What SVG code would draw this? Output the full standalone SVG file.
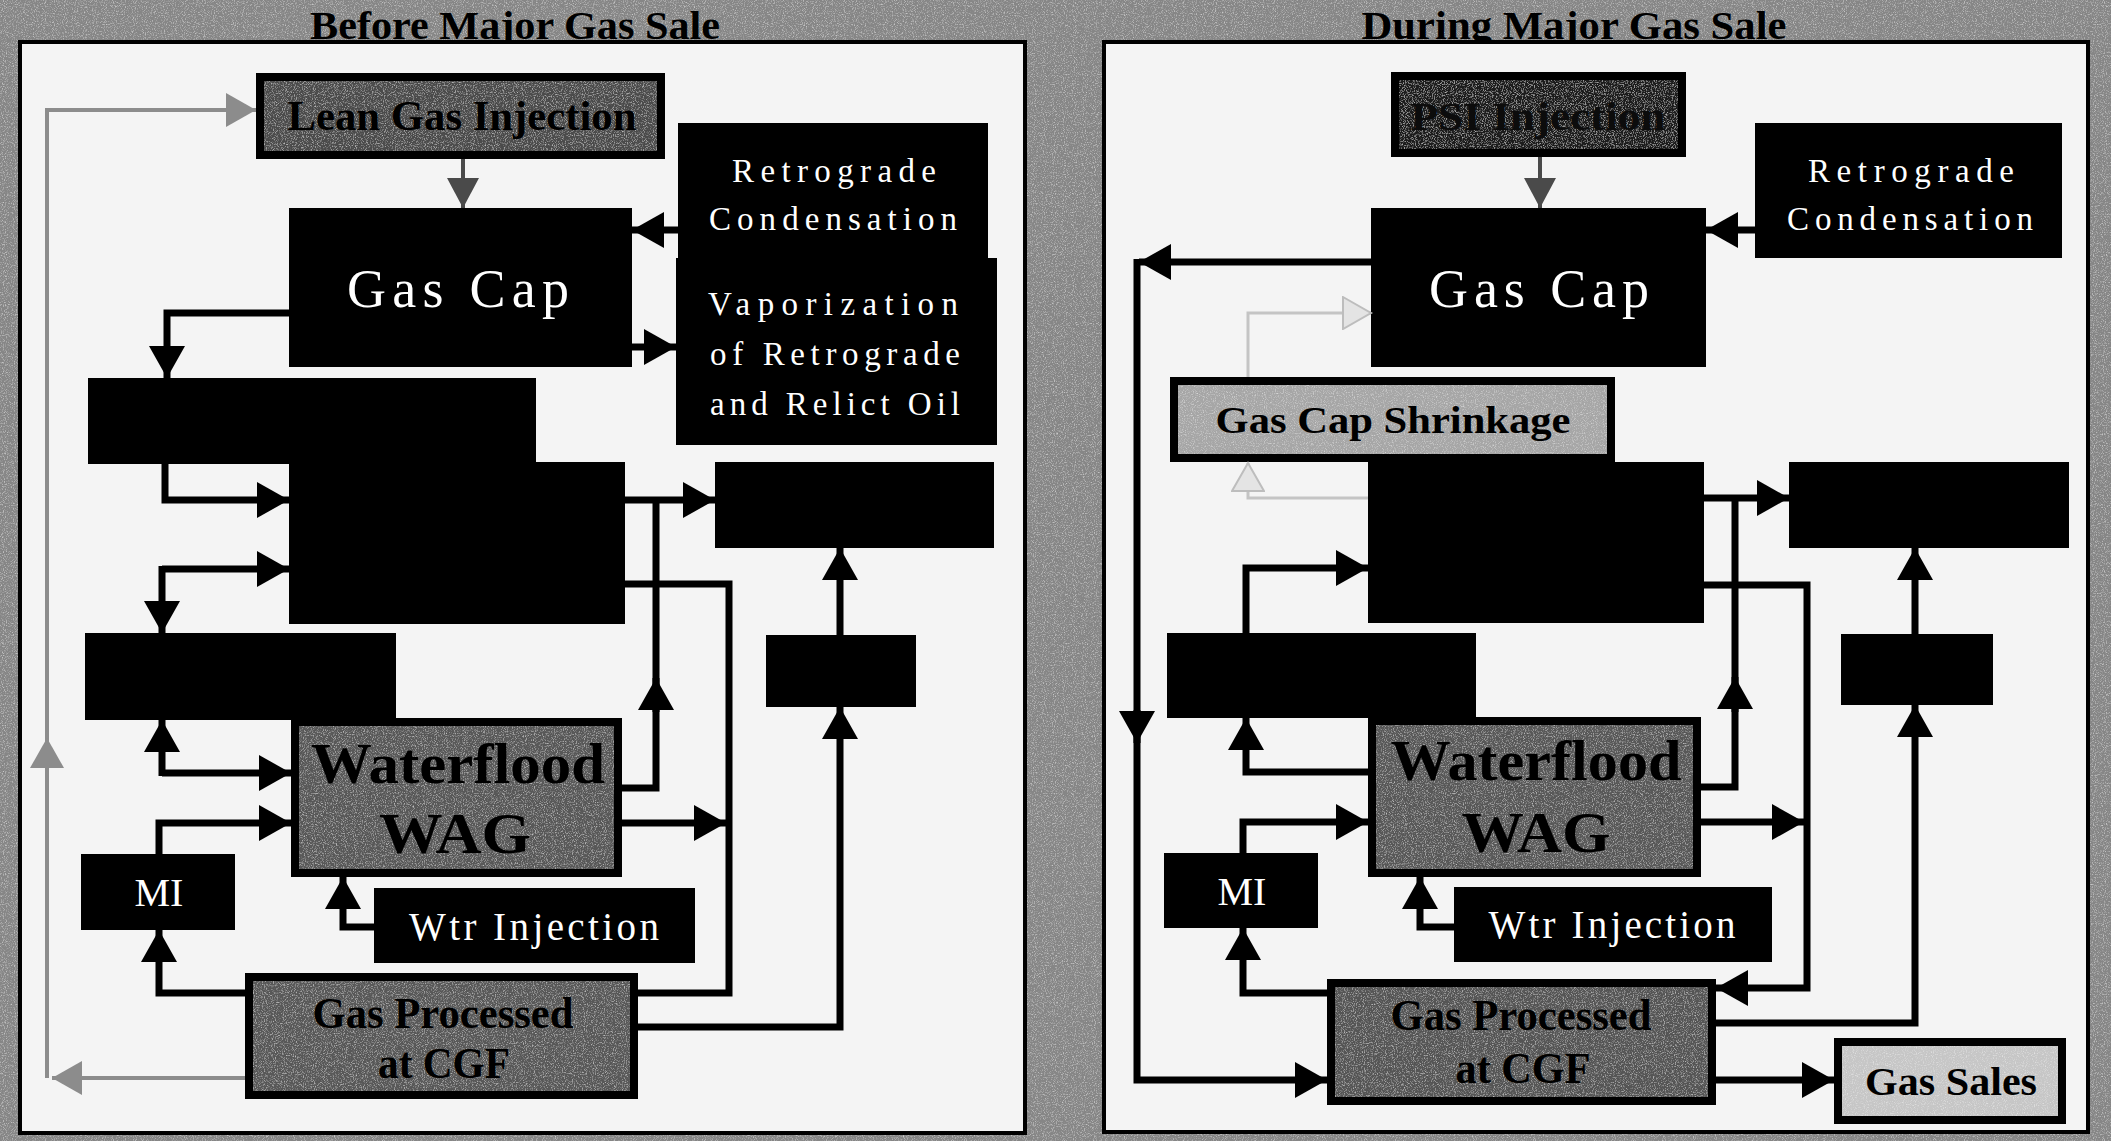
<svg xmlns="http://www.w3.org/2000/svg" width="2111" height="1141" viewBox="0 0 2111 1141">
<style>
.panel{fill:#f4f4f4;stroke:#000;stroke-width:4}
.blk{fill:#000}
.gbox{stroke:#000;stroke-width:8}
.wt{fill:#fff;font-family:"Liberation Serif","Times New Roman",serif}
.bt{fill:#000;font-family:"Liberation Serif","Times New Roman",serif;font-weight:bold}
.title{fill:#000;font-family:"Liberation Serif","Times New Roman",serif;font-weight:bold;font-size:40px}
.c{fill:none;stroke:#000;stroke-width:7}
.cd{fill:none;stroke:#4a4a4a;stroke-width:4}
.cg{fill:none;stroke:#8c8c8c;stroke-width:4}
.cl{fill:none;stroke:#c4c4c4;stroke-width:3}
</style>
<defs>
<filter id="grain" x="0" y="0" width="100%" height="100%">
<feTurbulence type="fractalNoise" baseFrequency="0.9" numOctaves="2" seed="4" result="n"/>
<feColorMatrix in="n" type="matrix" values="0 0 0 0 1  0 0 0 0 1  0 0 0 0 1  1.2 0 0 0 -0.6" result="w"/>
<feComposite in="w" in2="SourceGraphic" operator="in" result="wi"/>
<feMerge><feMergeNode in="SourceGraphic"/><feMergeNode in="wi"/></feMerge>
</filter>
<marker id="ah" markerUnits="userSpaceOnUse" markerWidth="34" markerHeight="36" refX="32" refY="18" orient="auto"><path d="M0,0 L32,18 L0,36 z" fill="#000"/></marker>
<marker id="ahd" markerUnits="userSpaceOnUse" markerWidth="32" markerHeight="32" refX="30" refY="16" orient="auto"><path d="M0,0 L30,16 L0,32 z" fill="#4a4a4a"/></marker>
<marker id="ahg" markerUnits="userSpaceOnUse" markerWidth="32" markerHeight="34" refX="30" refY="17" orient="auto"><path d="M0,0 L30,17 L0,34 z" fill="#8c8c8c"/></marker>
<marker id="ahl" markerUnits="userSpaceOnUse" markerWidth="32" markerHeight="34" refX="29" refY="17" orient="auto"><path d="M1,1 L29,17 L1,33 z" fill="#e4e4e4" stroke="#bdbdbd" stroke-width="2"/></marker>
</defs>

<rect x="0" y="0" width="2111" height="1141" fill="#868686" filter="url(#grain)"/>

<text class="title" x="515" y="39" text-anchor="middle" textLength="410" lengthAdjust="spacingAndGlyphs">Before Major Gas Sale</text>
<text class="title" x="1574" y="39" text-anchor="middle" textLength="425" lengthAdjust="spacingAndGlyphs">During Major Gas Sale</text>

<rect class="panel" x="20" y="42" width="1005" height="1091"/>
<rect class="panel" x="1104" y="42" width="984" height="1090"/>

<!-- LEFT PANEL NODES -->
<g id="l-lean-gas">
<rect x="260" y="77" width="401" height="78" fill="#4c4c4c" filter="url(#grain)"/>
<rect class="gbox" x="260" y="77" width="401" height="78" fill="none"/>
<text class="bt" x="462" y="130" font-size="42" text-anchor="middle" textLength="349" lengthAdjust="spacingAndGlyphs">Lean Gas Injection</text>
</g>
<g id="l-gas-cap">
<rect class="blk" x="289" y="208" width="343" height="159"/>
<text class="wt" x="458" y="307" font-size="54" text-anchor="middle" textLength="222" lengthAdjust="spacing">Gas Cap</text>
</g>
<g id="l-retro">
<rect class="blk" x="678" y="123" width="310" height="137"/>
<text class="wt" x="834" y="182" font-size="33" text-anchor="middle" textLength="204" lengthAdjust="spacing">Retrograde</text>
<text class="wt" x="833" y="230" font-size="33" text-anchor="middle" textLength="248" lengthAdjust="spacing">Condensation</text>
</g>
<g id="l-vapor">
<rect class="blk" x="676" y="258" width="321" height="187"/>
<text class="wt" x="833" y="315" font-size="33" text-anchor="middle" textLength="250" lengthAdjust="spacing">Vaporization</text>
<text class="wt" x="835" y="365" font-size="33" text-anchor="middle" textLength="250" lengthAdjust="spacing">of Retrograde</text>
<text class="wt" x="835" y="415" font-size="33" text-anchor="middle" textLength="250" lengthAdjust="spacing">and Relict Oil</text>
</g>
<g id="l-box-a"><rect class="blk" x="88" y="378" width="448" height="86"/></g>
<g id="l-box-b"><rect class="blk" x="289" y="462" width="336" height="162"/></g>
<g id="l-box-c"><rect class="blk" x="85" y="633" width="311" height="87"/></g>
<g id="l-box-d"><rect class="blk" x="715" y="462" width="279" height="86"/></g>
<g id="l-box-e"><rect class="blk" x="766" y="635" width="150" height="72"/></g>
<g id="l-waterflood">
<rect x="295" y="722" width="323" height="151" fill="#585858" filter="url(#grain)"/>
<rect class="gbox" x="295" y="722" width="323" height="151" fill="none"/>
<text class="bt" x="458" y="783" font-size="58" text-anchor="middle" textLength="294" lengthAdjust="spacingAndGlyphs">Waterflood</text>
<text class="bt" x="455" y="853" font-size="58" text-anchor="middle" textLength="152" lengthAdjust="spacingAndGlyphs">WAG</text>
</g>
<g id="l-mi">
<rect class="blk" x="81" y="854" width="154" height="76"/>
<text class="wt" x="159" y="906" font-size="40" text-anchor="middle">MI</text>
</g>
<g id="l-wtr">
<rect class="blk" x="374" y="888" width="321" height="75"/>
<text class="wt" x="534" y="940" font-size="39" text-anchor="middle" textLength="250" lengthAdjust="spacing">Wtr Injection</text>
</g>
<g id="l-gp">
<rect x="249" y="977" width="385" height="118" fill="#585858" filter="url(#grain)"/>
<rect class="gbox" x="249" y="977" width="385" height="118" fill="none"/>
<text class="bt" x="443" y="1028" font-size="44" text-anchor="middle" textLength="261" lengthAdjust="spacingAndGlyphs">Gas Processed</text>
<text class="bt" x="444" y="1078" font-size="44" text-anchor="middle" textLength="132" lengthAdjust="spacingAndGlyphs">at CGF</text>
</g>

<!-- RIGHT PANEL NODES -->
<g id="r-psi">
<rect x="1395" y="76" width="287" height="77" fill="#1e1e1e" filter="url(#grain)"/>
<rect class="gbox" x="1395" y="76" width="287" height="77" fill="none" stroke-width="6"/>
<text x="1538" y="130" font-size="40" text-anchor="middle" textLength="255" lengthAdjust="spacingAndGlyphs" fill="#0c0c0c" font-family="Liberation Serif, serif" font-weight="bold">PSI Injection</text>
</g>
<g id="r-gas-cap">
<rect class="blk" x="1371" y="208" width="335" height="159"/>
<text class="wt" x="1539" y="307" font-size="54" text-anchor="middle" textLength="220" lengthAdjust="spacing">Gas Cap</text>
</g>
<g id="r-retro">
<rect class="blk" x="1755" y="123" width="307" height="135"/>
<text class="wt" x="1911" y="182" font-size="33" text-anchor="middle" textLength="206" lengthAdjust="spacing">Retrograde</text>
<text class="wt" x="1910" y="230" font-size="33" text-anchor="middle" textLength="246" lengthAdjust="spacing">Condensation</text>
</g>
<g id="r-shrinkage">
<rect x="1174" y="381" width="437" height="77" fill="#a6a6a6" filter="url(#grain)"/>
<rect class="gbox" x="1174" y="381" width="437" height="77" fill="none"/>
<text class="bt" x="1393" y="433" font-size="38" text-anchor="middle" textLength="355" lengthAdjust="spacingAndGlyphs">Gas Cap Shrinkage</text>
</g>
<g id="r-box-b"><rect class="blk" x="1368" y="462" width="336" height="161"/></g>
<g id="r-box-c"><rect class="blk" x="1167" y="633" width="309" height="85"/></g>
<g id="r-box-d"><rect class="blk" x="1789" y="462" width="280" height="86"/></g>
<g id="r-box-e"><rect class="blk" x="1841" y="634" width="152" height="71"/></g>
<g id="r-waterflood">
<rect x="1372" y="721" width="325" height="152" fill="#585858" filter="url(#grain)"/>
<rect class="gbox" x="1372" y="721" width="325" height="152" fill="none"/>
<text class="bt" x="1536" y="780" font-size="58" text-anchor="middle" textLength="291" lengthAdjust="spacingAndGlyphs">Waterflood</text>
<text class="bt" x="1536" y="852" font-size="58" text-anchor="middle" textLength="149" lengthAdjust="spacingAndGlyphs">WAG</text>
</g>
<g id="r-mi">
<rect class="blk" x="1164" y="853" width="154" height="75"/>
<text class="wt" x="1242" y="905" font-size="40" text-anchor="middle">MI</text>
</g>
<g id="r-wtr">
<rect class="blk" x="1454" y="887" width="318" height="75"/>
<text class="wt" x="1612" y="938" font-size="39" text-anchor="middle" textLength="247" lengthAdjust="spacing">Wtr Injection</text>
</g>
<g id="r-gp">
<rect x="1331" y="983" width="381" height="118" fill="#545454" filter="url(#grain)"/>
<rect class="gbox" x="1331" y="983" width="381" height="118" fill="none"/>
<text class="bt" x="1521" y="1030" font-size="44" text-anchor="middle" textLength="261" lengthAdjust="spacingAndGlyphs">Gas Processed</text>
<text class="bt" x="1523" y="1083" font-size="44" text-anchor="middle" textLength="135" lengthAdjust="spacingAndGlyphs">at CGF</text>
</g>
<g id="r-gas-sales">
<rect x="1838" y="1042" width="224" height="78" fill="#c6c6c6" filter="url(#grain)"/>
<rect class="gbox" x="1838" y="1042" width="224" height="78" fill="none"/>
<text class="bt" x="1951" y="1095" font-size="40" text-anchor="middle" textLength="172" lengthAdjust="spacingAndGlyphs">Gas Sales</text>
</g>

<!-- CONNECTORS -->
<g id="connectors">
<!-- left -->
<path class="cd" d="M463,159 V208" marker-end="url(#ahd)"/>
<path class="c" d="M678,230 H632" marker-end="url(#ah)"/>
<path class="c" d="M632,347 H676" marker-end="url(#ah)"/>
<path class="c" d="M291,313 H167 V378" marker-end="url(#ah)"/>
<path class="c" d="M165,463 V500 H289" marker-end="url(#ah)"/>
<path class="c" d="M162,569 H289" marker-end="url(#ah)"/>
<path class="c" d="M162,566 V633" marker-end="url(#ah)"/>
<path class="c" d="M162,776 V720" marker-end="url(#ah)"/>
<path class="c" d="M162,773 H291" marker-end="url(#ah)"/>
<path class="c" d="M159,854 V823 H291" marker-end="url(#ah)"/>
<path class="c" d="M245,993 H159 V930" marker-end="url(#ah)"/>
<path class="c" d="M374,927 H343 V877" marker-end="url(#ah)"/>
<path class="c" d="M625,500 H715" marker-end="url(#ah)"/>
<path class="c" d="M622,788 H656 V497"/>
<path class="c" d="M656,712 V678" marker-end="url(#ah)"/>
<path class="c" d="M625,584 H729 V993 H638"/>
<path class="c" d="M622,823 H726" marker-end="url(#ah)"/>
<path class="c" d="M638,1027 H840 V707" marker-end="url(#ah)"/>
<path class="c" d="M840,635 V548" marker-end="url(#ah)"/>
<path class="cg" d="M245,1078 H52" marker-end="url(#ahg)"/>
<path class="cg" d="M47,1078 V110 H256" marker-end="url(#ahg)"/>
<path class="cg" d="M47,772 V738" marker-end="url(#ahg)"/>
<!-- right -->
<path class="cd" d="M1540,157 V208" marker-end="url(#ahd)"/>
<path class="c" d="M1755,230 H1706" marker-end="url(#ah)"/>
<path class="c" d="M1371,262 H1139" marker-end="url(#ah)"/>
<path class="c" d="M1137,259 V1080 H1327" marker-end="url(#ah)"/>
<path class="c" d="M1137,710 V743" marker-end="url(#ah)"/>
<path class="cl" d="M1248,377 V313 H1371" marker-end="url(#ahl)"/>
<path class="cl" d="M1368,498 H1248 V463" marker-end="url(#ahl)"/>
<path class="c" d="M1704,498 H1789" marker-end="url(#ah)"/>
<path class="c" d="M1701,787 H1735 V495"/>
<path class="c" d="M1735,712 V677" marker-end="url(#ah)"/>
<path class="c" d="M1704,585 H1807 V988 H1716" marker-end="url(#ah)"/>
<path class="c" d="M1701,822 H1804" marker-end="url(#ah)"/>
<path class="c" d="M1716,1023 H1915 V705" marker-end="url(#ah)"/>
<path class="c" d="M1915,634 V548" marker-end="url(#ah)"/>
<path class="c" d="M1716,1080 H1834" marker-end="url(#ah)"/>
<path class="c" d="M1246,633 V568 H1368" marker-end="url(#ah)"/>
<path class="c" d="M1368,772 H1246 V718" marker-end="url(#ah)"/>
<path class="c" d="M1243,853 V822 H1368" marker-end="url(#ah)"/>
<path class="c" d="M1327,993 H1243 V928" marker-end="url(#ah)"/>
<path class="c" d="M1454,927 H1420 V877" marker-end="url(#ah)"/>
</g>
</svg>
